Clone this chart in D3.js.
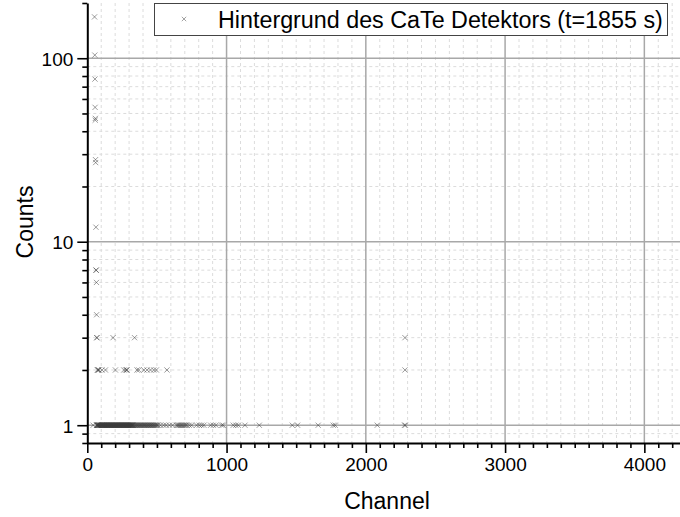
<!DOCTYPE html>
<html>
<head>
<meta charset="utf-8">
<script src="https://cdn.jsdelivr.net/npm/d3@7"></script>
<style>
  html, body { margin: 0; padding: 0; background: #fff; }
  svg { display: block; font-family: "Liberation Sans", Arial, sans-serif; }
</style>
</head>
<body>
<svg id="chart" width="680" height="517"></svg>
<script>
// Background spectrum of the CaTe detector: counts per channel (zero-count channels omitted)
const legendLabel = "Hintergrund des CaTe Detektors (t=1855 s)";
const xLabel = "Channel";
const yLabel = "Counts";

// noise peak at low channels
const peakChannels = [52, 54, 55, 56, 57, 58, 59, 60, 62, 63, 64, 66, 67];
const peakCounts   = [168, 104, 77, 54, 46, 47, 28, 27, 12, 7, 7, 6, 4];

// channels holding 3 counts
const threeChannels = [68, 70, 185, 339, 2281];
// channels holding 2 counts
const twoChannels = [73, 76, 80, 83, 106, 130, 202, 262, 276, 283, 285, 357, 370,
                     406, 429, 454, 477, 496, 572, 2281];
// channels holding 1 count
const oneChannels = [42, 67, 69, 71, 73, 75, 77, 79, 82, 84, 86, 88, 91, 94, 96, 99, 102,
  104, 106, 108, 111, 113, 115, 117, 119, 121, 124, 126, 128, 130, 132, 134, 137, 139,
  141, 143, 145, 147, 150, 152, 154, 156, 158, 161, 163, 165, 168, 170, 172, 174, 176,
  178, 181, 183, 186, 188, 190, 192, 195, 197, 199, 201, 204, 206, 208, 210, 212, 214,
  217, 219, 221, 223, 226, 228, 230, 232, 235, 237, 239, 241, 244, 246, 248, 250, 253,
  255, 257, 259, 262, 264, 266, 268, 271, 273, 275, 277, 279, 281, 284, 286, 288, 290,
  293, 295, 297, 299, 302, 304, 306, 308, 311, 313, 315, 317, 320, 322, 324, 326, 329,
  331, 336, 340, 345, 349, 354, 358, 363, 367, 372, 377, 381, 386, 390, 395, 400, 405,
  409, 414, 418, 423, 428, 433, 437, 442, 447, 452, 456, 461, 466, 471, 476, 481, 486,
  492, 497, 503, 508, 525, 548, 566, 590, 612, 640, 648, 655, 662, 670, 677, 684, 692,
  700, 708, 716, 732, 749, 785, 804, 821, 837, 886, 905, 924, 965, 976, 1048, 1067,
  1084, 1132, 1235, 1472, 1510, 1658, 1766, 1780, 2082, 2278, 2284];

const xMajorTicks = [0, 1000, 2000, 3000, 4000];
const yMajorTicks = [1, 10, 100];
const xDomain = [0, 4256];
const yDomain = [0.8, 200];

// assemble points
const points = [];
peakChannels.forEach((c, i) => points.push({ ch: c, n: peakCounts[i] }));
threeChannels.forEach(c => points.push({ ch: c, n: 3 }));
twoChannels.forEach(c => points.push({ ch: c, n: 2 }));
oneChannels.forEach(c => points.push({ ch: c, n: 1 }));

const svg = d3.select("#chart");
const plotLeft = 87.3, plotRight = 680, plotTop = 3, plotBottom = 443;

const x = d3.scaleLinear().domain(xDomain).range([plotLeft, plotRight]);
const y = d3.scaleLog().domain(yDomain).range([plotBottom, plotTop]);

// minor tick / grid positions
const xMinor = d3.range(100, xDomain[1], 100).filter(v => v % 1000 !== 0);
const yMinor = [];
[0.1, 1, 10, 100].forEach(dec => {
  for (let k = 2; k <= 9; k++) {
    const v = +(dec * k).toPrecision(3);
    if (v >= yDomain[0] && v <= yDomain[1]) yMinor.push(v);
  }
});

const grid = svg.append("g");
// minor grid (dashed)
grid.selectAll("line.xm").data(xMinor).join("line")
  .attr("x1", d => x(d)).attr("x2", d => x(d)).attr("y1", plotTop).attr("y2", plotBottom)
  .attr("stroke", "#dcdcdc").attr("stroke-width", 1).attr("stroke-dasharray", "3,3");
grid.selectAll("line.ym").data(yMinor.filter(v => v > yDomain[0] && v < yDomain[1])).join("line")
  .attr("x1", plotLeft).attr("x2", plotRight).attr("y1", d => y(d)).attr("y2", d => y(d))
  .attr("stroke", "#dcdcdc").attr("stroke-width", 1).attr("stroke-dasharray", "3,3");
// major grid (solid)
grid.selectAll("line.xM").data(xMajorTicks.filter(v => v > 0)).join("line")
  .attr("x1", d => x(d)).attr("x2", d => x(d)).attr("y1", plotTop).attr("y2", plotBottom)
  .attr("stroke", "#a8a8a8").attr("stroke-width", 1.5);
grid.selectAll("line.yM").data(yMajorTicks).join("line")
  .attr("x1", plotLeft).attr("x2", plotRight).attr("y1", d => y(d)).attr("y2", d => y(d))
  .attr("stroke", "#a8a8a8").attr("stroke-width", 1.5);

// data markers (x shape)
const s = 2.6;
const marks = svg.append("g").attr("stroke", "#3a3a3a").attr("stroke-opacity", 0.5)
  .attr("stroke-width", 1).attr("fill", "none");
marks.selectAll("path").data(points).join("path")
  .attr("d", d => {
    const px = x(d.ch), py = y(d.n);
    return `M${px - s},${py - s}L${px + s},${py + s}M${px - s},${py + s}L${px + s},${py - s}`;
  });

// axes
const fontSize = 19;
svg.append("g").attr("transform", `translate(0,${plotBottom})`)
  .call(d3.axisBottom(x).tickValues(xMajorTicks).tickFormat(d3.format("d"))
    .tickSize(10).tickPadding(5).tickSizeOuter(0));
svg.append("g").attr("transform", `translate(0,${plotBottom})`)
  .call(d3.axisBottom(x).tickValues(xMinor).tickFormat("").tickSize(5).tickSizeOuter(0))
  .call(g => g.select(".domain").remove());

const yAxis = svg.append("g").attr("transform", `translate(${plotLeft},0)`)
  .call(d3.axisLeft(y).tickValues(yMajorTicks).tickFormat(d3.format("d"))
    .tickSize(10).tickPadding(4).tickSizeOuter(0));
svg.append("g").attr("transform", `translate(${plotLeft},0)`)
  .call(d3.axisLeft(y).tickValues(yMinor).tickFormat("").tickSize(5).tickSizeOuter(0))
  .call(g => g.select(".domain").remove());

svg.selectAll(".domain").attr("stroke", "#000").attr("stroke-width", 2);
svg.selectAll(".tick line").attr("stroke", "#000").attr("stroke-width", 1.6);
svg.selectAll(".tick text").attr("font-family", "Liberation Sans, Arial, sans-serif")
  .attr("font-size", fontSize).attr("fill", "#000");
yAxis.selectAll(".tick text").attr("dy", "0.36em");

// axis titles
svg.append("text").attr("x", 387).attr("y", 509).attr("text-anchor", "middle")
  .attr("font-size", 23).attr("fill", "#000").text(xLabel);
svg.append("text").attr("transform", "translate(33,222) rotate(-90)")
  .attr("text-anchor", "middle").attr("font-size", 23).attr("fill", "#000").text(yLabel);

// legend
const lg = svg.append("g");
lg.append("rect").attr("x", 154.5).attr("y", 3.5).attr("width", 513).attr("height", 32)
  .attr("fill", "#fff").attr("stroke", "#444").attr("stroke-width", 1);
const ls = 2.2, lx = 184, ly = 19;
lg.append("path")
  .attr("d", `M${lx - ls},${ly - ls}L${lx + ls},${ly + ls}M${lx - ls},${ly + ls}L${lx + ls},${ly - ls}`)
  .attr("stroke", "#555").attr("stroke-opacity", 0.55).attr("stroke-width", 1);
const lt = lg.append("text").attr("x", 218).attr("y", 28).attr("font-size", 22)
  .attr("fill", "#000").text(legendLabel);
const w = lt.node().getComputedTextLength();
lt.attr("font-size", 22 * 445 / w);
</script>
</body>
</html>
